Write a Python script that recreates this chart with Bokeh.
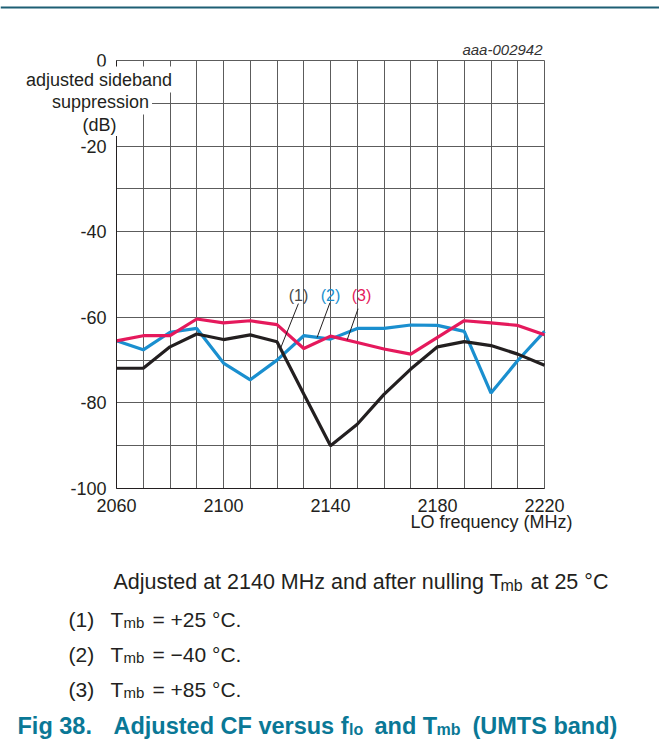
import numpy as np
from bokeh.plotting import figure
from bokeh.models import Range1d, FixedTicker, Label, Span
from bokeh.embed import file_html
from bokeh.resources import INLINE

# ---------------- data ----------------
freq = [2060, 2070, 2080, 2090, 2100, 2110, 2120, 2130, 2140,
        2150, 2160, 2170, 2180, 2190, 2200, 2210, 2220]
tmb_p25 = [-71.9, -71.9, -66.9, -63.9, -65.2, -64.1, -65.7, -77.9, -90.0,
           -85.0, -78.0, -72.1, -66.9, -65.7, -66.6, -68.6, -71.2]
tmb_m40 = [-65.5, -67.6, -63.5, -62.6, -70.7, -74.6, -70.0, -64.3, -65.1,
           -62.6, -62.6, -61.8, -61.9, -63.3, -77.7, -70.1, -63.3]
tmb_p85 = [-65.5, -64.3, -64.3, -60.4, -61.3, -60.8, -61.7, -67.3, -64.4,
           -65.9, -67.4, -68.6, -64.7, -60.8, -61.3, -61.9, -64.1]

x_major = [2060, 2100, 2140, 2180, 2220]
x_labels = ["2060", "2100", "2140", "2180", "2220"]
y_major = [-100, -80, -60, -40, -20, 0]
y_labels = ["-100", "-80", "-60", "-40", "-20", "0"]
x_grid = list(range(2060, 2221, 10))
y_grid = list(range(-100, 1, 10))
x_bounds = (2060, 2220)
y_bounds = (-100, 0)

series_names = ["(1)", "(2)", "(3)"]
series_colors = ["#231f20", "#1a8fcf", "#e5195c"]
label_colors = ["#4a4a4a", "#1a8fcf", "#e5195c"]

FONT = "Liberation Sans"
TXT = "#231f20"
GRID = "#5c5c5c"
TEAL = "#0a7896"

# ---------------- page geometry (pixels) ----------------
W, H = 659, 749
FL, FT, FW, FH = 116, 60, 428, 428   # chart area inside the canvas
sx = (x_bounds[1] - x_bounds[0]) / FW
sy = (y_bounds[1] - y_bounds[0]) / FH


def X(px):
    return x_bounds[0] + (px - FL) * sx


def Y(py):
    return y_bounds[1] - (py - FT) * sy


p = figure(width=W, height=H, output_backend="svg", toolbar_location=None,
           x_range=Range1d(X(0), X(W)), y_range=Range1d(Y(H), Y(0)),
           min_border=0, min_border_left=0, min_border_right=0,
           min_border_top=0, min_border_bottom=0)
p.background_fill_color = "white"
p.border_fill_color = "white"
p.outline_line_color = None

# axes placed at the chart edges through fixed_location
p.xaxis.fixed_location = y_bounds[0]
p.yaxis.fixed_location = x_bounds[0]
p.xaxis.bounds = x_bounds
p.yaxis.bounds = y_bounds
for ax in (p.xaxis[0], p.yaxis[0]):
    ax.axis_line_color = TXT
    ax.axis_line_width = 1
    ax.major_tick_in = 0
    ax.major_tick_out = 0
    ax.minor_tick_in = 0
    ax.minor_tick_out = 0
    ax.major_label_text_font = FONT
    ax.major_label_text_font_size = "18px"
    ax.major_label_text_color = TXT
    ax.major_label_standoff = 10

p.xaxis.ticker = FixedTicker(ticks=x_major)
p.xaxis.major_label_overrides = dict(zip(x_major, x_labels))
p.yaxis.ticker = FixedTicker(ticks=y_major)
p.yaxis.major_label_overrides = dict(zip(y_major, y_labels))

p.xgrid.ticker = FixedTicker(ticks=x_grid)
p.ygrid.ticker = FixedTicker(ticks=y_grid)
grid_ok = True
try:
    p.xgrid.bounds = x_bounds
    p.ygrid.bounds = y_bounds
    p.xgrid.cross_bounds = y_bounds
    p.ygrid.cross_bounds = x_bounds
except Exception:
    grid_ok = False
if grid_ok:
    for g in (p.xgrid[0], p.ygrid[0]):
        g.grid_line_color = GRID
        g.grid_line_width = 1
else:
    p.xgrid.visible = False
    p.ygrid.visible = False
    p.segment(x0=x_grid, y0=[y_bounds[0]] * len(x_grid), x1=x_grid,
              y1=[y_bounds[1]] * len(x_grid), line_color=GRID, line_width=1)
    p.segment(x0=[x_bounds[0]] * len(y_grid), y0=y_grid,
              x1=[x_bounds[1]] * len(y_grid), y1=y_grid,
              line_color=GRID, line_width=1)

# curves: (2) then (3) then (1) on top
p.line(freq, tmb_m40, line_color=series_colors[1], line_width=3.2)
p.line(freq, tmb_p85, line_color=series_colors[2], line_width=3.2)
p.line(freq, tmb_p25, line_color=series_colors[0], line_width=3.2)

# top rule of the page
p.add_layout(Span(location=Y(7), dimension="width", line_color="#1d5f74",
                  line_width=1.8))


def put(text, px, py, size, color=TXT, align="left", style="normal", bg=None,
        pad=2):
    lab = Label(x=X(px), y=Y(py), text=text, text_font=FONT,
                text_font_size=f"{size}px", text_color=color,
                text_align=align, text_baseline="alphabetic",
                text_font_style=style)
    if bg is not None:
        lab.background_fill_color = bg
        lab.background_fill_alpha = 1.0
        lab.padding = pad
    p.add_layout(lab)


# leader lines from the (n) labels to the curves
curves = [tmb_p25, tmb_m40, tmb_p85]
leader_from = [(2128.0, -56.8), (2139.8, -56.6), (2150.3, -58.0)]
leader_to_x = [2121.3, 2135.0, 2146.2]
for i in range(3):
    xe = leader_to_x[i]
    ye = float(np.interp(xe, freq, curves[i]))
    p.segment(x0=[leader_from[i][0]], y0=[leader_from[i][1]], x1=[xe], y1=[ye],
              line_color="#231f20", line_width=1)

label_x = [298, 330, 361]
for i in range(3):
    put(series_names[i], label_x[i], 294.5, 16, color=label_colors[i], align="center")

# reference code
put("aaa-002942", 542, 48.5, 15, color="#333333", align="right", style="italic")

# y-axis title (white boxes over the grid)
put("adjusted sideband", 98.5, 79, 18, align="center", bg="white", pad=3)
put("suppression", 100, 101, 18, align="center", bg="white", pad=3)
put("(dB)", 99, 124.5, 18, align="center", bg="white", pad=1)

# x-axis title
put("LO frequency (MHz)", 572, 521, 18, align="right")

# caption
BODY = 21.5
put("Adjusted at 2140 MHz and after nulling T", 113, 581.5, BODY)
put("mb", 500, 585, 16)
put("at 25 \u00b0C", 530, 581.5, BODY)

notes = ["= +25 \u00b0C.", "= \u221240 \u00b0C.", "= +85 \u00b0C."]
note_base = [618.5, 653.5, 688.5]
for i in range(3):
    put(series_names[i], 68, note_base[i], 21)
    put("T", 110, note_base[i], 21)
    put("mb", 123, note_base[i] + 3.5, 15)
    put(notes[i], 152, note_base[i], 21)

# figure title
TS = 23.5
put("Fig 38.", 17, 725.5, TS, color=TEAL, style="bold")
put("Adjusted CF versus f", 113, 725.5, TS, color=TEAL, style="bold")
put("lo", 348.5, 729, 16, color=TEAL, style="bold")
put("and T", 374, 725.5, TS, color=TEAL, style="bold")
put("mb", 436, 729, 16, color=TEAL, style="bold")
put("(UMTS band)", 472, 725.5, TS, color=TEAL, style="bold")

open("out.html", "w").write(file_html(p, INLINE))
